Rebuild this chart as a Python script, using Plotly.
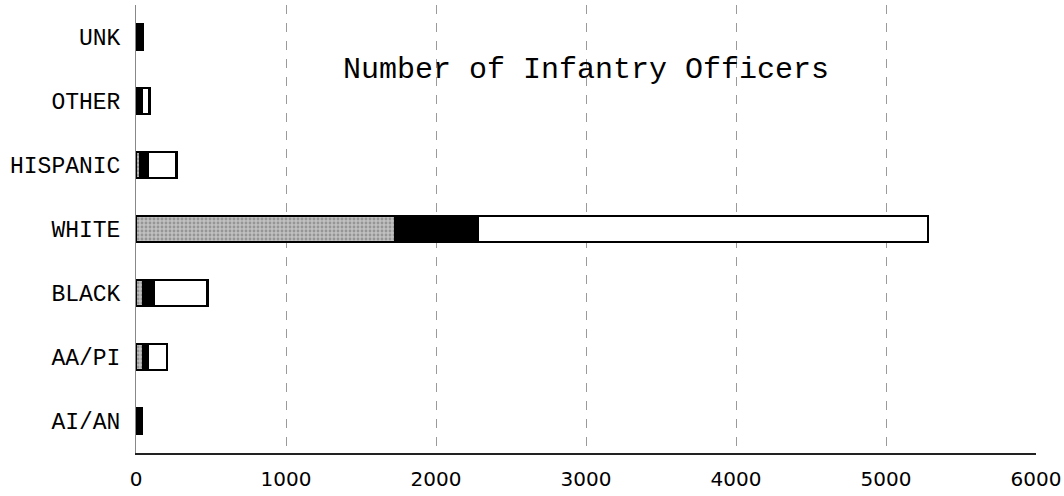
import plotly.graph_objects as go

categories = ["AI/AN", "AA/PI", "BLACK", "WHITE", "HISPANIC", "OTHER", "UNK"]
gray_vals = [10, 45, 45, 1730, 30, 10, 5]
black_vals = [25, 35, 75, 550, 50, 30, 35]
white_vals = [5, 125, 355, 3000, 190, 50, 5]
x_ticks = [0, 1000, 2000, 3000, 4000, 5000, 6000]
title_text = "Number of Infantry Officers"

fig = go.Figure()
line = dict(color="black", width=2.5)
fig.add_trace(go.Bar(y=categories, x=gray_vals, orientation="h",
                     marker=dict(color="#c0c0c0", line=line,
                                 pattern=dict(shape=".", fgcolor="#6a6a6a", size=4, solidity=0.4)),
                     width=0.4, showlegend=False))
fig.add_trace(go.Bar(y=categories, x=black_vals, orientation="h",
                     marker=dict(color="black", line=line), width=0.4, showlegend=False))
fig.add_trace(go.Bar(y=categories, x=white_vals, orientation="h",
                     marker=dict(color="white", line=line), width=0.4, showlegend=False))

fig.update_layout(
    barmode="stack",
    width=1064, height=496,
    margin=dict(l=136, r=28, t=5, b=43),
    paper_bgcolor="white", plot_bgcolor="white",
    font=dict(family="Liberation Mono", color="black", size=17),
    annotations=[dict(text=title_text, x=0.5005, y=0.855, xref="paper", yref="paper",
                      xanchor="center", yanchor="middle",
                      showarrow=False, font=dict(family="Liberation Mono", size=30, color="black"))],
)
fig.update_xaxes(range=[0, 6000], tickvals=x_ticks, ticktext=[str(v) for v in x_ticks],
                 showgrid=True, gridcolor="#9a9a9a", griddash="dash", gridwidth=1,
                 showline=True, linecolor="#222222", linewidth=1.5, zeroline=False,
                 tickfont=dict(family="DejaVu Sans", size=20), ticks="outside", ticklen=7,
                 tickcolor="rgba(255,255,255,0)", automargin=False, ticklabeloverflow="allow")
fig.update_yaxes(categoryorder="array", categoryarray=categories,
                 range=[-0.5, 6.5],
                 showline=True, linecolor="#888888", linewidth=1, showgrid=False,
                 tickfont=dict(family="Liberation Mono", size=23), ticks="outside", ticklen=10,
                 tickcolor="rgba(255,255,255,0)", automargin=False)
fig.write_html("out.html", config={"displayModeBar": False},
               post_script="document.body.style.margin='0';document.body.style.overflow='hidden';")
